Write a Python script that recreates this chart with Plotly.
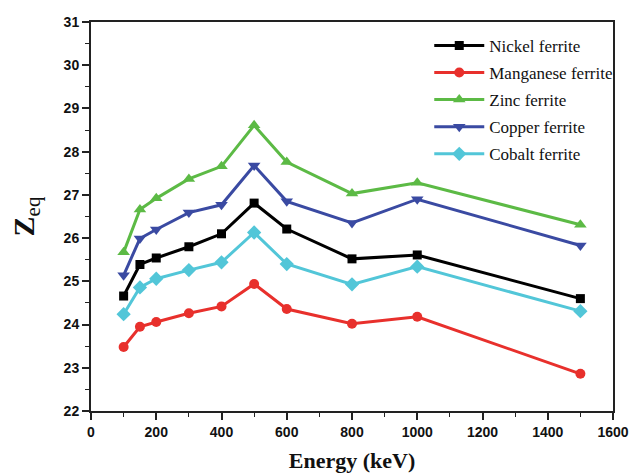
import plotly.graph_objects as go

energy = [100, 150, 200, 300, 400, 500, 600, 800, 1000, 1500]

nickel = [24.66, 25.39, 25.54, 25.80, 26.10, 26.81, 26.21, 25.52, 25.61, 24.60]
manganese = [23.48, 23.95, 24.06, 24.26, 24.42, 24.94, 24.36, 24.02, 24.18, 22.86]
zinc = [25.67, 26.66, 26.92, 27.37, 27.66, 28.61, 27.76, 27.03, 27.28, 26.31]
copper = [25.14, 25.99, 26.20, 26.59, 26.77, 27.68, 26.85, 26.35, 26.90, 25.83]
cobalt = [24.24, 24.86, 25.06, 25.26, 25.44, 26.13, 25.40, 24.93, 25.34, 24.31]

names = ["Nickel ferrite", "Manganese ferrite", "Zinc ferrite", "Copper ferrite", "Cobalt ferrite"]
series = [nickel, manganese, zinc, copper, cobalt]
colors = ["#000000", "#e8302c", "#5cba45", "#3a4aa2", "#52c6d8"]
symbols = ["square", "circle", "triangle-up", "triangle-down", "diamond"]
sizes = [9, 10, 11, 11, 11]

x_ticks = [0, 200, 400, 600, 800, 1000, 1200, 1400, 1600]
y_ticks = [22, 23, 24, 25, 26, 27, 28, 29, 30, 31]

fig = go.Figure()
for n, s, c, sym, sz in zip(names, series, colors, symbols, sizes):
    fig.add_trace(go.Scatter(
        x=energy, y=s, name=n, mode="lines+markers",
        line=dict(color=c, width=3),
        marker=dict(symbol=sym, size=sz, color=c),
        legendgroup=n,
    ))

axis_common = dict(
    showline=True, linecolor="#222", linewidth=2, mirror=True,
    ticks="outside", ticklen=7, tickwidth=1.5, tickcolor="#222",
    showgrid=False, zeroline=False, automargin=False,
    tickfont=dict(family="Liberation Sans, Arial", size=14, color="#111", weight="bold"),
)

fig.update_xaxes(
    range=[0, 1600], tickvals=x_ticks,
    minor=dict(dtick=100, ticks="outside", ticklen=4, tickwidth=1.2, tickcolor="#222"),
    title=dict(text="<b>Energy (keV)</b>", font=dict(family="Liberation Serif, Times New Roman", size=22, color="#111"), standoff=24),
    **axis_common,
)
fig.update_yaxes(
    range=[22, 31], tickvals=y_ticks,
    minor=dict(dtick=0.5, ticks="outside", ticklen=4, tickwidth=1.2, tickcolor="#222"),
    title=dict(text="<b>Z</b><sub>eq</sub>", font=dict(family="Liberation Serif, Times New Roman", size=30, color="#111"), standoff=20),
    **axis_common,
)

fig.update_layout(
    width=631, height=473,
    margin=dict(l=91, r=18, t=22, b=62),
    plot_bgcolor="white", paper_bgcolor="white",
    showlegend=True,
    legend=dict(
        x=0.648, y=0.985, xanchor="left", yanchor="top",
        bgcolor="rgba(0,0,0,0)", borderwidth=0,
        font=dict(family="Liberation Serif, Times New Roman", size=17, color="#111"),
        tracegroupgap=2, itemwidth=50,
    ),
)

fig.write_html("out.html")
